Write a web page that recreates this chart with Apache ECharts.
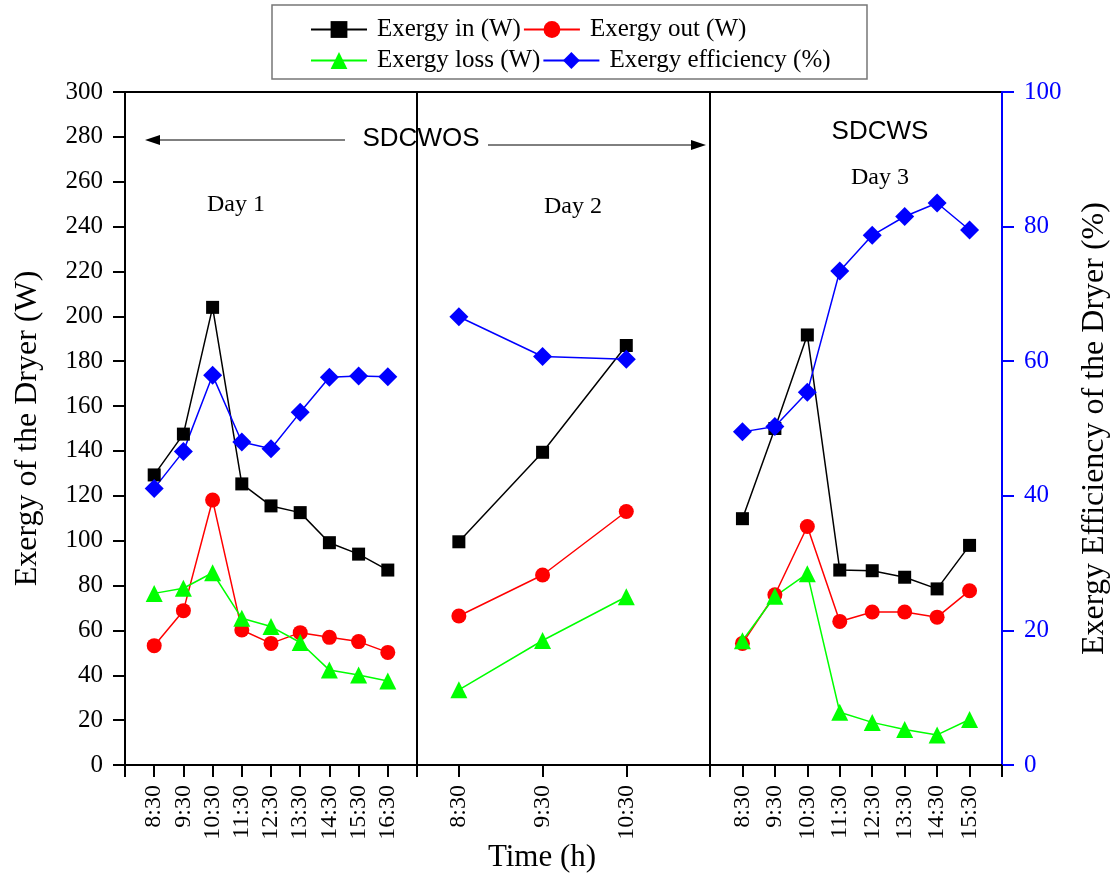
<!DOCTYPE html>
<html>
<head>
<meta charset="utf-8">
<script src="https://cdn.jsdelivr.net/npm/echarts@6/dist/echarts.min.js"></script>
<style>
	html, body {margin: 0; padding: 0; background: #fff;}
	#chart {width: 1118px; height: 877px;}
</style>
</head>
<body>
<div id="chart"></div>
<script>
// time labels for each day
const day1Times = ['8:30', '9:30', '10:30', '11:30', '12:30', '13:30', '14:30', '15:30', '16:30'];
const day2Times = ['8:30', '9:30', '10:30'];
const day3Times = ['8:30', '9:30', '10:30', '11:30', '12:30', '13:30', '14:30', '15:30'];

// day 1 (SDCWOS)
const day1In = [129.3, 147.5, 204, 125.3, 115.5, 112.5, 99.1, 94, 86.9];
const day1Out = [53.2, 68.8, 118.1, 60.2, 54.2, 59, 56.9, 55, 50.2];
const day1Loss = [76.5, 78.8, 85.7, 65.4, 61.7, 54.6, 42.3, 40.1, 37.4];
const day1Eff = [41.1, 46.6, 57.9, 48.0, 47.0, 52.4, 57.6, 57.8, 57.7];

// day 2 (SDCWOS)
const day2In = [99.5, 139.4, 187];
const day2Out = [66.4, 84.7, 113];
const day2Loss = [33.5, 55.5, 75];
const day2Eff = [66.6, 60.7, 60.3];

// day 3 (SDCWS)
const day3In = [109.8, 150, 191.7, 86.9, 86.6, 83.7, 78.5, 97.9];
const day3Out = [54.2, 75.9, 106.3, 64, 68.2, 68.2, 65.9, 77.7];
const day3Loss = [55.4, 75.2, 85.3, 23.5, 19, 15.8, 13.4, 20.3];
const day3Eff = [49.5, 50.3, 55.4, 73.4, 78.7, 81.5, 83.5, 79.5];

const seriesNames = ['Exergy in (W)', 'Exergy out (W)', 'Exergy loss (W)', 'Exergy efficiency (%)'];

const SERIF = '"Liberation Serif", "Times New Roman", serif';
const SANS = '"Liberation Sans", Arial, sans-serif';

// each panel is its own grid; first = x position of the first point, max = axis extent
const panels = [
	{times: day1Times, values: [day1In, day1Out, day1Loss, day1Eff], first: 1, max: 10, left: 125, width: 292},
	{times: day2Times, values: [day2In, day2Out, day2Loss, day2Eff], first: 0.5, max: 3.5, left: 417, width: 293},
	{times: day3Times, values: [day3In, day3Out, day3Loss, day3Eff], first: 1, max: 9, left: 710, width: 292}
];

const styles = [
	{color: '#000000', symbol: 'rect', size: 13},
	{color: '#ff0000', symbol: 'circle', size: 15},
	{color: '#00ff00', symbol: 'triangle', size: 17},
	{color: '#0000ff', symbol: 'diamond', size: 19}
];

const grids = panels.map(p => ({
	left: p.left,
	width: p.width,
	top: 92,
	bottom: 112,
	show: true,
	borderColor: '#000',
	borderWidth: 2
}));

const xAxes = panels.map((p, k) => {
	const pos = p.times.map((t, i) => p.first + i);
	return {
		gridIndex: k,
		type: 'value',
		min: 0,
		max: p.max,
		splitLine: {show: false},
		axisLine: {lineStyle: {color: '#000', width: 2}},
		axisTick: {customValues: [0].concat(pos, [p.max]), length: 12, lineStyle: {color: '#000', width: 2}},
		axisLabel: {
			customValues: pos,
			rotate: 90,
			margin: 20,
			fontSize: 24,
			fontFamily: SERIF,
			color: '#000',
			formatter: v => p.times[Math.round(v - p.first)]
		}
	};
});

const hiddenAxis = (gridIndex, max) => ({gridIndex, type: 'value', min: 0, max, show: false});

const yAxes = [
	{
		gridIndex: 0,
		type: 'value',
		position: 'left',
		min: 0,
		max: 300,
		interval: 20,
		name: 'Exergy of the Dryer (W)',
		nameLocation: 'middle',
		nameRotate: 90,
		nameGap: 81,
		nameTextStyle: {fontFamily: SERIF, fontSize: 32, color: '#000'},
		splitLine: {show: false},
		axisLine: {show: true, lineStyle: {color: '#000', width: 2}},
		axisTick: {length: 12, lineStyle: {color: '#000', width: 2}},
		axisLabel: {margin: 22, fontSize: 25, fontFamily: SERIF, color: '#000'}
	},
	hiddenAxis(0, 100),
	hiddenAxis(1, 300),
	hiddenAxis(1, 100),
	hiddenAxis(2, 300),
	{
		gridIndex: 2,
		type: 'value',
		position: 'right',
		min: 0,
		max: 100,
		interval: 20,
		name: 'Exergy Efficiency of the Dryer (%)',
		nameLocation: 'middle',
		nameRotate: 90,
		nameGap: 77,
		nameTextStyle: {fontFamily: SERIF, fontSize: 32, color: '#000'},
		splitLine: {show: false},
		axisLine: {show: true, lineStyle: {color: '#0000ff', width: 2}},
		axisTick: {length: 12, lineStyle: {color: '#0000ff', width: 2}},
		axisLabel: {margin: 22, fontSize: 25, fontFamily: SERIF, color: '#0000ff'}
	}
];

const series = [];
panels.forEach((p, k) => {
	p.values.forEach((vals, s) => {
		const st = styles[s];
		series.push({
			name: seriesNames[s],
			type: 'line',
			xAxisIndex: k,
			yAxisIndex: s === 3 ? 2 * k + 1 : 2 * k,
			data: vals.map((v, i) => [p.first + i, v]),
			symbol: st.symbol,
			symbolSize: st.size,
			showAllSymbol: true,
			lineStyle: {color: st.color, width: 1.5},
			itemStyle: {color: st.color},
			emphasis: {disabled: true}
		});
	});
});

const legendBase = {
	left: 310,
	itemWidth: 56,
	itemHeight: 21,
	itemGap: 2,
	padding: 0,
	textStyle: {fontFamily: SERIF, fontSize: 25, color: '#000', padding: [0, 0, 0, 5]}
};

const chart = echarts.init(document.getElementById('chart'));
chart.setOption({
	animation: false,
	backgroundColor: '#fff',
	legend: [
		Object.assign({}, legendBase, {top: 17, data: seriesNames.slice(0, 2)}),
		Object.assign({}, legendBase, {top: 48, data: seriesNames.slice(2)})
	],
	grid: grids,
	xAxis: xAxes,
	yAxis: yAxes,
	series: series,
	graphic: [
		{type: 'rect', shape: {x: 272, y: 5, width: 595, height: 74}, style: {fill: 'none', stroke: '#777', lineWidth: 1.5}, silent: true},
		// SDCWOS arrows
		{type: 'line', shape: {x1: 150, y1: 140, x2: 345, y2: 140}, style: {stroke: '#000', lineWidth: 1}},
		{type: 'polygon', shape: {points: [[145, 140], [160, 135], [160, 145]]}, style: {fill: '#000'}},
		{type: 'line', shape: {x1: 488, y1: 145, x2: 700, y2: 145}, style: {stroke: '#000', lineWidth: 1}},
		{type: 'polygon', shape: {points: [[706, 145], [691, 140], [691, 150]]}, style: {fill: '#000'}},
		{type: 'text', x: 421, y: 139, style: {text: 'SDCWOS', font: '26px ' + SANS, fill: '#000', align: 'center', verticalAlign: 'middle'}},
		{type: 'text', x: 880, y: 132, style: {text: 'SDCWS', font: '26px ' + SANS, fill: '#000', align: 'center', verticalAlign: 'middle'}},
		{type: 'text', x: 236, y: 205, style: {text: 'Day 1', font: '24px ' + SERIF, fill: '#000', align: 'center', verticalAlign: 'middle'}},
		{type: 'text', x: 573, y: 207, style: {text: 'Day 2', font: '24px ' + SERIF, fill: '#000', align: 'center', verticalAlign: 'middle'}},
		{type: 'text', x: 880, y: 178, style: {text: 'Day 3', font: '24px ' + SERIF, fill: '#000', align: 'center', verticalAlign: 'middle'}},
		{type: 'text', x: 542, y: 858, style: {text: 'Time (h)', font: '31px ' + SERIF, fill: '#000', align: 'center', verticalAlign: 'middle'}}
	]
});
</script>
</body>
</html>
